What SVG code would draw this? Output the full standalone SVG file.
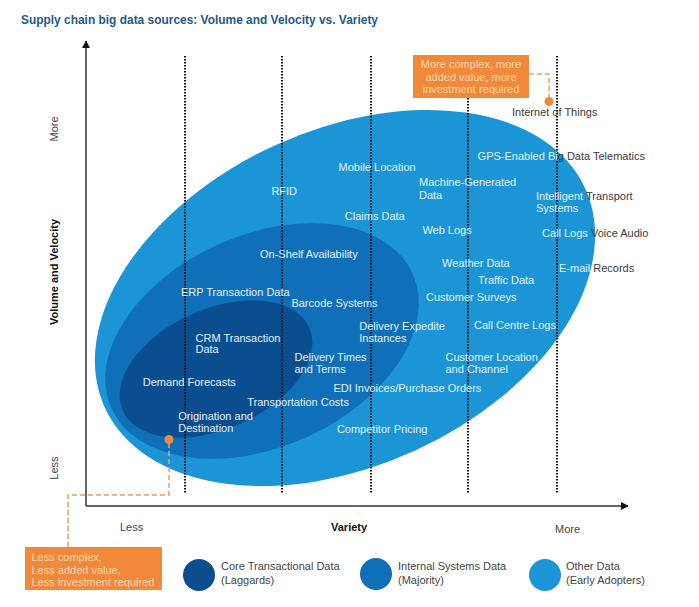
<svg xmlns="http://www.w3.org/2000/svg" width="699" height="607" viewBox="0 0 699 607">
<style>
  text { font-family: "Liberation Sans", Arial, sans-serif; }
  .title { font-size: 13px; font-weight: bold; fill: #23588c; }
  .in { font-size: 11px; fill: #e3f1fb; }
  .out { fill: #3a3a3a; }
  .dark { font-size: 11px; fill: #3a3a3a; }
  .axl { font-size: 11px; fill: #444; }
  .axb { font-size: 11px; font-weight: bold; fill: #111; }
  .box { fill: #f08a3a; }
  .boxt { font-size: 11px; fill: #fbd6b4; }
  .grid { stroke: #111; stroke-width: 2; stroke-dasharray: 1.5 1.5; fill: none; }
  .axis { stroke: #333; stroke-width: 1.5; fill: none; }
  .call { stroke: #f0a060; stroke-width: 1.5; stroke-dasharray: 5 3; fill: none; }
  .dot { fill: #f08a3a; }
  .lg { font-size: 11px; fill: #444; }
  .z1 { fill: #1b95d6; }
  .z2 { fill: #0f6fb8; }
  .z3 { fill: #0b4e90; }
</style>
<defs>
  <marker id="arr" viewBox="0 0 10 10" refX="9" refY="5" markerWidth="8" markerHeight="8" markerUnits="userSpaceOnUse" orient="auto">
    <path d="M0,0 L10,5 L0,10 z" fill="#111"/>
  </marker>
</defs>
<rect width="699" height="607" fill="#ffffff"/>

<g id="title"><text class="title" x="21" y="24" textLength="357" lengthAdjust="spacingAndGlyphs">Supply chain big data sources: Volume and Velocity vs. Variety</text></g>

<g id="zones">
  <g id="zone-other"><ellipse class="z1" cx="345" cy="298" rx="264" ry="168" transform="rotate(-24.5 345 298)"/></g>
  <g id="zone-internal"><ellipse class="z2" cx="262" cy="341" rx="165" ry="106" transform="rotate(-24 262 341)"/></g>
  <g id="zone-core"><ellipse class="z3" cx="216" cy="369" rx="102" ry="60" transform="rotate(-24 216 369)"/></g>
</g>

<g id="gridlines">
  <line class="grid" x1="185" y1="56" x2="185" y2="494"/>
  <line class="grid" x1="282" y1="56" x2="282" y2="494"/>
  <line class="grid" x1="371" y1="56" x2="371" y2="494"/>
  <line class="grid" x1="468" y1="56" x2="468" y2="494"/>
  <line class="grid" x1="557" y1="56" x2="557" y2="494"/>
</g>

<g id="axes">
  <line class="axis" x1="86" y1="506" x2="86" y2="41" marker-end="url(#arr)"/>
  <line class="axis" x1="86" y1="506" x2="628" y2="506" marker-end="url(#arr)"/>
  <text class="axl" transform="rotate(-90 58 129)" x="58" y="129" text-anchor="middle">More</text>
  <text class="axb" transform="rotate(-90 58 272)" x="58" y="272" text-anchor="middle">Volume and Velocity</text>
  <text class="axl" transform="rotate(-90 58 468)" x="58" y="468" text-anchor="middle">Less</text>
  <text class="axl" x="120" y="531">Less</text>
  <text class="axb" x="331" y="531">Variety</text>
  <text class="axl" x="555" y="533">More</text>
</g>

<g id="labels">
  <g id="l-iot"><text class="dark" x="512" y="115.5">Internet of Things</text></g>
  <g id="l-gps"><text class="in" x="477.6" y="160">GPS-Enabled Bi<tspan class="out">g Data Telematics</tspan></text></g>
  <g id="l-mobile"><text class="in" x="338.6" y="170.5">Mobile Location</text></g>
  <g id="l-machine"><text class="in" x="419" y="186">Machine-Generated</text><text class="in" x="419" y="199">Data</text></g>
  <g id="l-rfid"><text class="in" x="271.4" y="195">RFID</text></g>
  <g id="l-its"><text class="in" x="536" y="200">Intelligent<tspan class="out"> Transport</tspan></text><text class="in" x="536" y="212">Systems</text></g>
  <g id="l-claims"><text class="in" x="344.8" y="220">Claims Data</text></g>
  <g id="l-web"><text class="in" x="422.4" y="234">Web Logs</text></g>
  <g id="l-calllogs"><text class="in" x="542" y="237">Call Logs <tspan class="out">Voice Audio</tspan></text></g>
  <g id="l-shelf"><text class="in" x="260" y="257.5">On-Shelf Availability</text></g>
  <g id="l-weather"><text class="in" x="442" y="266.5">Weather Data</text></g>
  <g id="l-email"><text class="in" x="559" y="272">E-mail<tspan class="out"> Records</tspan></text></g>
  <g id="l-traffic"><text class="in" x="478" y="284">Traffic Data</text></g>
  <g id="l-erp"><text class="in" x="181" y="295.5">ERP Transaction Data</text></g>
  <g id="l-surveys"><text class="in" x="426" y="300.5">Customer Surveys</text></g>
  <g id="l-barcode"><text class="in" x="291.4" y="306.5">Barcode Systems</text></g>
  <g id="l-expedite"><text class="in" x="359.3" y="329.5">Delivery Expedite</text><text class="in" x="359.3" y="342">Instances</text></g>
  <g id="l-callcentre"><text class="in" x="474" y="329">Call Centre Logs</text></g>
  <g id="l-crm"><text class="in" x="195.5" y="341.5">CRM Transaction</text><text class="in" x="195.5" y="353">Data</text></g>
  <g id="l-times"><text class="in" x="294.5" y="360.5">Delivery Times</text><text class="in" x="294.5" y="372.5">and Terms</text></g>
  <g id="l-custloc"><text class="in" x="445.5" y="360.5">Customer Location</text><text class="in" x="445.5" y="372.5">and Channel</text></g>
  <g id="l-demand"><text class="in" x="142.8" y="385.5">Demand Forecasts</text></g>
  <g id="l-edi"><text class="in" x="333.4" y="392">EDI Invoices/Purchase Orders</text></g>
  <g id="l-transport"><text class="in" x="247.2" y="405.5">Transportation Costs</text></g>
  <g id="l-origin"><text class="in" x="178.3" y="419.5">Origination and</text><text class="in" x="178.3" y="432">Destination</text></g>
  <g id="l-competitor"><text class="in" x="336.9" y="433">Competitor Pricing</text></g>
</g>

<g id="connectors">
  <path class="call" d="M529,74 H549 V101"/>
  <path class="call" d="M68,547 V495 H169 V440"/>
  <circle class="dot" cx="549" cy="101.5" r="4.5"/>
  <circle class="dot" cx="169" cy="439.5" r="4.5"/>
</g>

<g id="callout-more">
  <rect class="box" x="413" y="55" width="116" height="43"/>
  <text class="boxt" x="471" y="68" text-anchor="middle">More complex, more</text>
  <text class="boxt" x="471" y="81" text-anchor="middle">added value, more</text>
  <text class="boxt" x="471" y="93" text-anchor="middle">investment required</text>
</g>
<g id="callout-less">
  <rect class="box" x="25" y="547" width="137" height="43"/>
  <text class="boxt" x="31.5" y="561">Less complex,</text>
  <text class="boxt" x="31.5" y="574">Less added value,</text>
  <text class="boxt" x="31.5" y="586">Less investment required</text>
</g>

<g id="legend">
  <g id="lg-core"><circle class="z3" cx="199" cy="575" r="16"/><text class="lg" x="221" y="570">Core Transactional Data</text><text class="lg" x="221" y="584">(Laggards)</text></g>
  <g id="lg-internal"><circle class="z2" cx="376" cy="574" r="16"/><text class="lg" x="398" y="570">Internal Systems Data</text><text class="lg" x="398" y="584">(Majority)</text></g>
  <g id="lg-other"><circle class="z1" cx="545" cy="575" r="16"/><text class="lg" x="566" y="570">Other Data</text><text class="lg" x="566" y="584">(Early Adopters)</text></g>
</g>
</svg>
